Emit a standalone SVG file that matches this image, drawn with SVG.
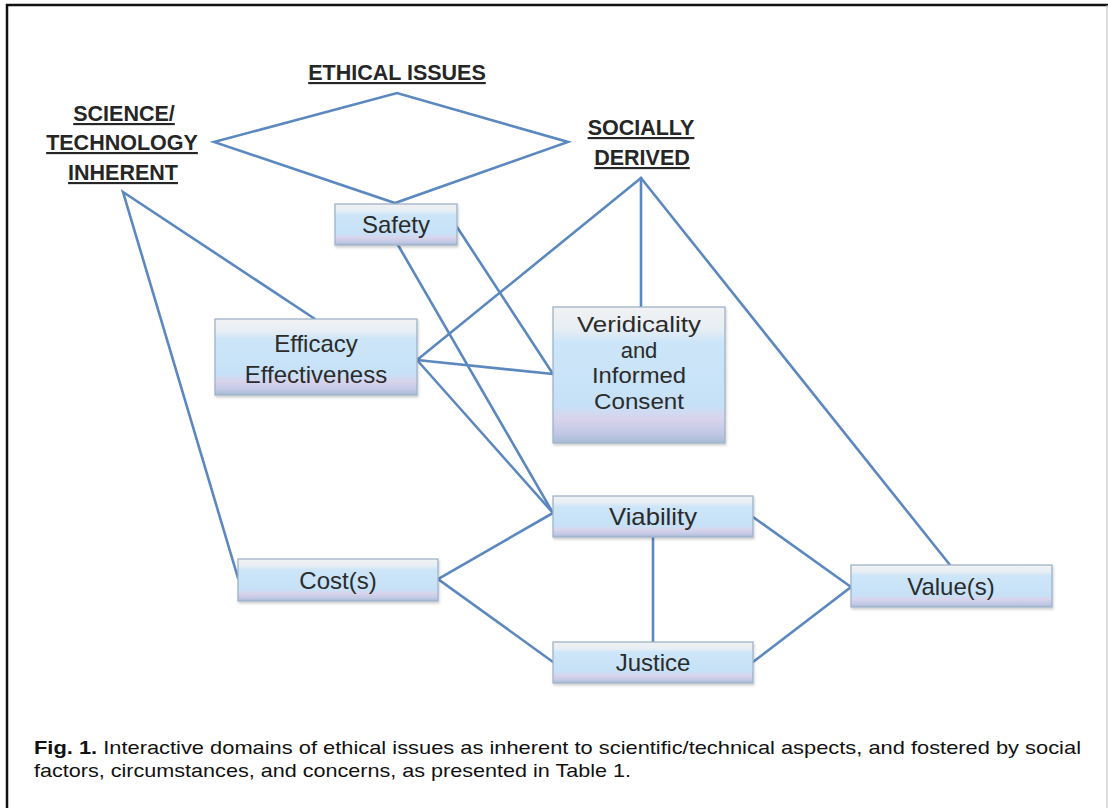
<svg xmlns="http://www.w3.org/2000/svg" width="1108" height="808" viewBox="0 0 1108 808">
<defs>
<linearGradient id="boxg" x1="0" y1="0" x2="0" y2="1">
<stop offset="0" stop-color="#f1f2f3"/>
<stop offset="0.16" stop-color="#e7eef4"/>
<stop offset="0.26" stop-color="#cde5f8"/>
<stop offset="0.72" stop-color="#c6e1f7"/>
<stop offset="0.82" stop-color="#d8d4ec"/>
<stop offset="0.92" stop-color="#c4c9e6"/>
<stop offset="1" stop-color="#a7bbd6"/>
</linearGradient>
<filter id="sh" x="-5%" y="-10%" width="110%" height="130%">
<feDropShadow dx="1" dy="2" stdDeviation="1.2" flood-color="#000" flood-opacity="0.18"/>
</filter>
</defs>
<style>
.box{fill:url(#boxg);stroke:#9fb3c8;stroke-width:1.3;filter:url(#sh)}
.lbl{font-family:"Liberation Sans",Arial,sans-serif;font-size:24px;fill:#2b2b2b;text-anchor:middle}
.ver{font-size:22px}
.hdr{font-family:"Liberation Sans",Arial,sans-serif;font-size:21.5px;font-weight:bold;fill:#262626;text-anchor:middle;text-decoration:underline}
.cap{font-family:"Liberation Sans",Arial,sans-serif;font-size:19px;fill:#111}
.con{fill:none;stroke:#5b88bf;stroke-width:2.6;stroke-linejoin:miter;stroke-linecap:round}
</style>
<rect width="1108" height="808" fill="#fff"/>
<g id="frame">
<path d="M7,808 V5 H1108" fill="none" stroke="#111" stroke-width="2.5"/>
<line x1="1107" y1="5" x2="1107" y2="808" stroke="#bbb" stroke-width="1"/>
</g>
<g id="connectors">
<polygon class="con" points="214,142 397,93 568,142 395,203"/>
<polyline class="con" points="315,319 123,192 238,578"/>
<line class="con" x1="641" y1="178" x2="417" y2="360"/>
<line class="con" x1="641" y1="178" x2="641" y2="307"/>
<line class="con" x1="641" y1="178" x2="950" y2="565"/>
<line class="con" x1="457" y1="227" x2="553" y2="374"/>
<line class="con" x1="417" y1="360" x2="553" y2="374"/>
<line class="con" x1="398" y1="245" x2="553" y2="513"/>
<line class="con" x1="417" y1="360" x2="553" y2="513"/>
<polyline class="con" points="553,513 438,579 553,662"/>
<line class="con" x1="653" y1="537" x2="653" y2="642"/>
<polyline class="con" points="753,517 851,587 753,662"/>
</g>
<g id="ethical-issues"><text class="hdr" x="397" y="80">ETHICAL ISSUES</text></g>
<g id="science-technology-inherent">
<text class="hdr" x="124" y="121">SCIENCE/</text>
<text class="hdr" x="122" y="150">TECHNOLOGY</text>
<text class="hdr" x="123" y="180">INHERENT</text>
</g>
<g id="socially-derived">
<text class="hdr" x="641" y="135">SOCIALLY</text>
<text class="hdr" x="642" y="165">DERIVED</text>
</g>
<g id="safety">
<rect class="box" x="335" y="204" width="122" height="41"/>
<text class="lbl" x="396" y="233">Safety</text>
</g>
<g id="efficacy">
<rect class="box" x="215" y="319" width="202" height="76"/>
<text class="lbl" x="316" y="352">Efficacy</text>
<text class="lbl" x="316" y="383">Effectiveness</text>
</g>
<g id="veridicality">
<rect class="box" x="553" y="307" width="172" height="136"/>
<text class="lbl ver" x="639" y="332" textLength="124" lengthAdjust="spacingAndGlyphs">Veridicality</text>
<text class="lbl ver" x="639" y="357.5">and</text>
<text class="lbl ver" x="639" y="383" textLength="94" lengthAdjust="spacingAndGlyphs">Informed</text>
<text class="lbl ver" x="639" y="408.5" textLength="90" lengthAdjust="spacingAndGlyphs">Consent</text>
</g>
<g id="viability">
<rect class="box" x="553" y="496" width="200" height="41"/>
<text class="lbl" x="653" y="525" textLength="88" lengthAdjust="spacingAndGlyphs">Viability</text>
</g>
<g id="costs">
<rect class="box" x="238" y="559" width="200" height="42"/>
<text class="lbl" x="338" y="589">Cost(s)</text>
</g>
<g id="values">
<rect class="box" x="851" y="565" width="201" height="42"/>
<text class="lbl" x="951" y="595">Value(s)</text>
</g>
<g id="justice">
<rect class="box" x="553" y="642" width="200" height="41"/>
<text class="lbl" x="653" y="671">Justice</text>
</g>
<g id="caption">
<text class="cap" x="34" y="754" textLength="1047" lengthAdjust="spacingAndGlyphs"><tspan font-weight="bold">Fig. 1.</tspan> Interactive domains of ethical issues as inherent to scientific/technical aspects, and fostered by social</text>
<text class="cap" x="34" y="777" textLength="597" lengthAdjust="spacingAndGlyphs">factors, circumstances, and concerns, as presented in Table 1.</text>
</g>
</svg>
